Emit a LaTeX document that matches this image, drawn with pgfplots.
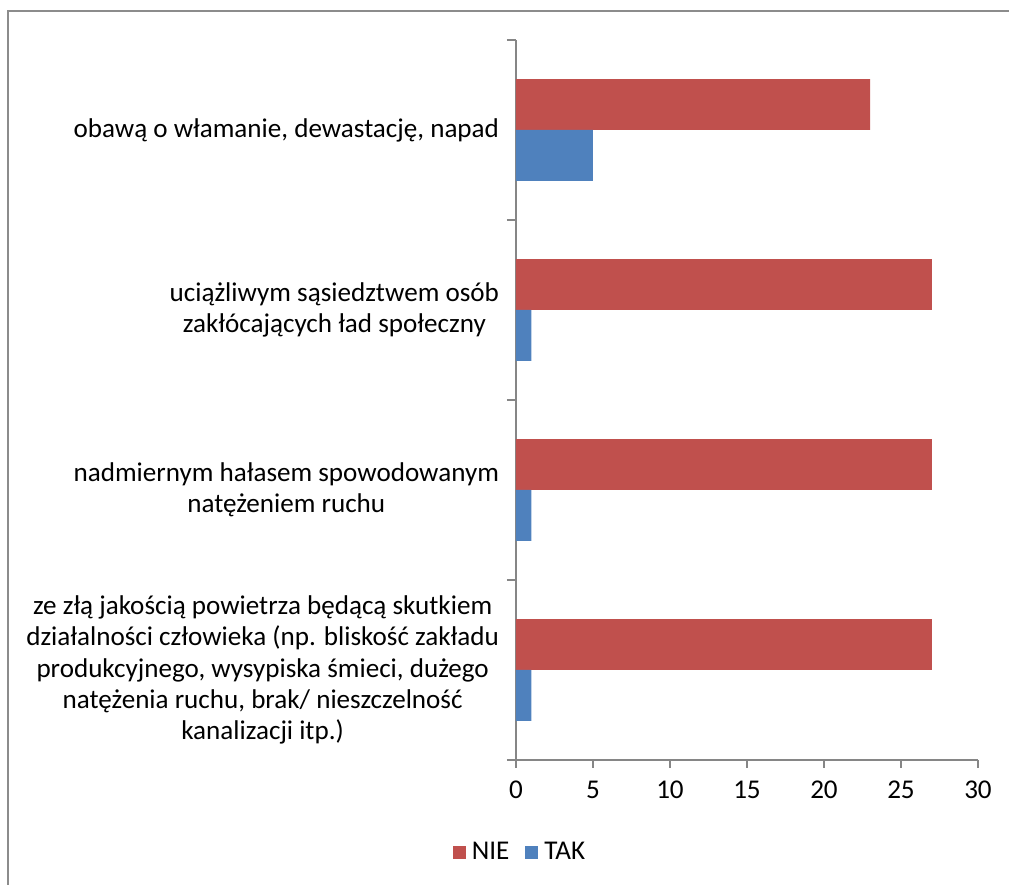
\documentclass[border=0pt]{standalone}
\usepackage{fontspec}
\setmainfont{Carlito}
\usepackage{pgfplots}
\pgfplotsset{compat=1.18}
\definecolor{nie}{HTML}{C0504D}
\definecolor{tak}{HTML}{4F81BD}
\definecolor{axgray}{HTML}{868686}
\definecolor{framegray}{HTML}{8C8C8C}
\begin{document}
\begin{tikzpicture}
\begin{axis}[
  scale only axis,
  width=231bp, height=360bp,
  xmin=0, xmax=30,
  ymin=-0.5, ymax=3.5,
  axis lines*=left,
  axis line style={axgray, line width=0.7bp},
  every tick/.style={axgray, line width=0.7bp},
  tick align=outside,
  xtick={0,5,...,30},
  major tick length=4bp,
  minor tick length=4.5bp,
  ytick={0,1,2,3},
  minor ytick={-0.5,0.5,1.5,2.5,3.5},
  major y tick style={draw=none},
  yticklabels={
    {ze złą jakością powietrza będącą skutkiem\\działalności człowieka (np. bliskość zakładu\\produkcyjnego, wysypiska śmieci, dużego\\natężenia ruchu, brak/ nieszczelność\\kanalizacji itp.)},
    {nadmiernym hałasem spowodowanym\\natężeniem ruchu},
    {uciążliwym sąsiedztwem osób\\zakłócających ład społeczny},
    {obawą o włamanie, dewastację, napad}},
  yticklabel style={align=center, font=\fontsize{13.6}{15.75}\selectfont, xshift=-1bp},
  xticklabel style={font=\fontsize{13.6}{15.75}\selectfont, yshift=-3bp},
  /pgf/number format/assume math mode=true,
  xbar,
  bar width=0.283,
  legend style={at={(0.011,-0.128)}, anchor=center, draw=none, legend columns=2,
    font=\fontsize{13.6}{15.75}\selectfont,
    /tikz/every odd column/.append style={column sep=1bp},
    /tikz/every even column/.append style={column sep=6bp}},
  legend image code/.code={\fill[#1] (0bp,-3.25bp) rectangle (6.5bp,3.25bp);},
  clip=false,
]
\addplot[fill=nie, draw=none, bar shift=0.1415] coordinates {(27,0) (27,1) (27,2) (23,3)};
\addlegendentry{NIE}
\addplot[fill=tak, draw=none, bar shift=-0.1415] coordinates {(1,0) (1,1) (1,2) (5,3)};
\addlegendentry{TAK}
\coordinate (O) at (rel axis cs:0,0);
\end{axis}
\path[use as bounding box] ([shift={(-258bp,-62.5bp)}]O) rectangle ([shift={(246.5bp,380bp)}]O);
\draw[framegray, line width=1bp] ([shift={(-253.75bp,-62.5bp)}]O) -- ([shift={(-253.75bp,374.25bp)}]O) -- ([shift={(246.5bp,374.25bp)}]O);
\end{tikzpicture}
\end{document}
